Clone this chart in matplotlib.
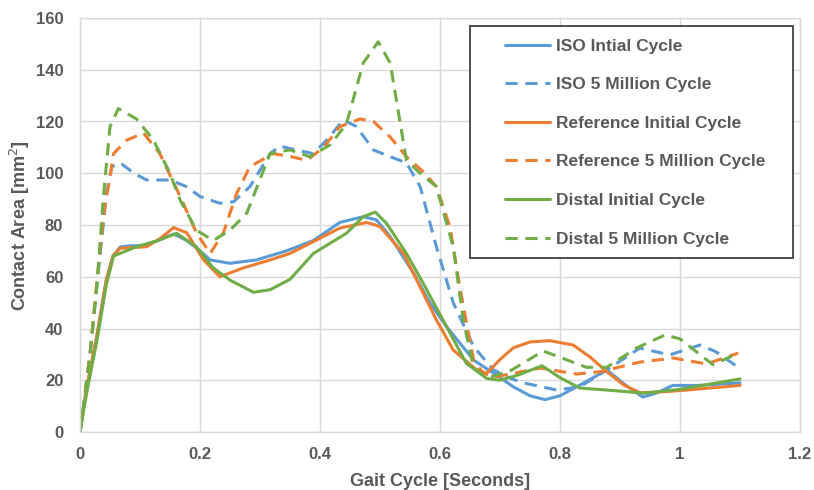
import matplotlib
matplotlib.use("Agg")
import matplotlib.pyplot as plt
from matplotlib.patches import Rectangle

plt.rcParams['font.family'] = ['Liberation Sans', 'DejaVu Sans']

# ---- data ----
iso_init_x = [0, 0.011, 0.028, 0.044, 0.055, 0.067, 0.085, 0.106, 0.13, 0.156, 0.178, 0.2, 0.217, 0.25,
              0.294, 0.344, 0.389, 0.433, 0.472, 0.494, 0.517, 0.556, 0.583, 0.611, 0.656, 0.694, 0.722,
              0.75, 0.775, 0.80, 0.84, 0.878, 0.91, 0.938, 0.96, 0.988, 1.03, 1.1]
iso_init_y = [0, 17, 37, 59, 68, 71.5, 72, 72, 74, 76.5, 74, 70, 66.5, 65.2,
              66.5, 70, 74, 81, 83.2, 82, 75.5, 61.4, 50, 40.7, 27.8, 22, 17.5,
              14, 12.5, 14, 19, 24, 18, 13.5, 15, 18, 18, 19]

ref_init_x = [0, 0.011, 0.028, 0.044, 0.055, 0.067, 0.111, 0.135, 0.156, 0.178, 0.206, 0.233, 0.272, 0.317,
              0.35, 0.389, 0.433, 0.478, 0.5, 0.539, 0.567, 0.594, 0.622, 0.661, 0.678, 0.7, 0.722, 0.75,
              0.783, 0.822, 0.85, 0.878, 0.906, 0.933, 0.97, 1.0, 1.05, 1.1]
ref_init_y = [0, 17, 37, 59, 68, 71, 71.6, 75, 79, 77, 66.5, 60, 63.4, 66.5,
              69, 73.6, 78.8, 81, 79.4, 69, 56, 43.3, 31.7, 24, 22.7, 28, 32.5, 34.8,
              35.3, 33.6, 29, 23.3, 18.2, 15.2, 15.5, 16, 17, 18]

dis_init_x = [0, 0.011, 0.028, 0.044, 0.056, 0.094, 0.13, 0.161, 0.194, 0.222, 0.25, 0.289, 0.317, 0.35,
              0.389, 0.444, 0.472, 0.492, 0.511, 0.544, 0.572, 0.611, 0.644, 0.678, 0.7, 0.73, 0.77,
              0.8, 0.833, 0.89, 0.94, 1.0, 1.05, 1.1]
dis_init_y = [0, 15, 35, 57, 68, 71.6, 74, 76.8, 71.6, 63.4, 58.7, 54, 55, 59,
              69, 76.8, 83.2, 85, 80.6, 69, 57.5, 40.7, 26.5, 20.7, 20, 22, 25.6,
              21, 17, 16, 15, 16.5, 18.5, 20.5]

iso_5m_x = [0, 0.006, 0.017, 0.028, 0.044, 0.053, 0.067, 0.09, 0.111, 0.15, 0.178, 0.2, 0.233, 0.256,
            0.283, 0.317, 0.333, 0.36, 0.389, 0.411, 0.439, 0.461, 0.489, 0.517, 0.544, 0.567, 0.594,
            0.622, 0.656, 0.689, 0.72, 0.739, 0.795, 0.833, 0.878, 0.933, 0.983, 1.033, 1.06, 1.097]
iso_5m_y = [0, 10, 31, 56, 92, 102.5, 104, 100, 97.4, 97.4, 94.8, 91, 88.4, 89,
            94.8, 107.6, 110.5, 109, 107.6, 112.8, 120.6, 118, 109, 106.4, 104, 94.8, 71.6,
            50, 33, 24, 20.5, 19, 16.2, 17.5, 24, 32.4, 29.8, 33.6, 31, 25]

ref_5m_x = [0, 0.006, 0.017, 0.028, 0.04, 0.05, 0.056, 0.078, 0.106, 0.133, 0.167, 0.194, 0.217, 0.239,
            0.261, 0.283, 0.322, 0.35, 0.378, 0.406, 0.433, 0.467, 0.489, 0.517, 0.544, 0.572, 0.594,
            0.617, 0.633, 0.656, 0.672, 0.694, 0.767, 0.828, 0.867, 0.933, 0.989, 1.044, 1.097]
ref_5m_y = [0, 10, 31, 58, 85, 98.7, 107.6, 112.8, 115.5, 107.6, 91, 77, 69, 77,
            92.2, 102.5, 107.6, 106.5, 105, 110, 118, 121, 120, 114, 106.4, 100.6, 94.8,
            79, 56, 27.8, 22.7, 21.4, 24.7, 22.4, 23.3, 27, 28.6, 26.3, 30.5]

dis_5m_x = [0, 0.006, 0.017, 0.028, 0.039, 0.05, 0.064, 0.094, 0.122, 0.15, 0.167, 0.194, 0.222, 0.25,
            0.278, 0.317, 0.35, 0.383, 0.417, 0.444, 0.472, 0.497, 0.517, 0.544, 0.567, 0.594, 0.622,
            0.639, 0.656, 0.678, 0.72, 0.772, 0.81, 0.844, 0.878, 0.928, 0.975, 1.0, 1.055, 1.097]
dis_5m_y = [0, 10, 30.5, 56, 91, 118, 125, 121, 113, 100, 89.6, 78, 74, 78,
            84.6, 107.7, 109, 106.4, 111, 119, 142.6, 150.8, 142.6, 105, 100, 94.8, 71.6,
            43, 25, 20.7, 24, 31.3, 28, 25, 25, 32.5, 37.5, 36, 26, 30.5]

labels = ["ISO Intial Cycle", "ISO 5 Million Cycle", "Reference Initial Cycle",
          "Reference 5 Million Cycle", "Distal Initial Cycle", "Distal 5 Million Cycle"]
x_ticks = [0, 0.2, 0.4, 0.6, 0.8, 1.0, 1.2]
x_tick_labels = ["0", "0.2", "0.4", "0.6", "0.8", "1", "1.2"]
y_ticks = [0, 20, 40, 60, 80, 100, 120, 140, 160]

BLUE, ORANGE, GREEN = "#5B9BD5", "#ED7D31", "#70AD47"
TXT = "#595959"
GRID = "#D9D9D9"

fig = plt.figure(figsize=(8.14, 4.90), dpi=100)
ax = fig.add_axes([80/814, 1 - 432/490, 720/814, 414/490])

lw = 2.2
dash = (4, 2.5)
series = [
    (iso_init_x, iso_init_y, BLUE, None),
    (iso_5m_x, iso_5m_y, BLUE, dash),
    (ref_init_x, ref_init_y, ORANGE, None),
    (ref_5m_x, ref_5m_y, ORANGE, dash),
    (dis_init_x, dis_init_y, GREEN, None),
    (dis_5m_x, dis_5m_y, GREEN, dash),
]
handles = []
for (xs, ys, c, d), lab in zip(series, labels):
    if d is None:
        h, = ax.plot(xs, ys, color=c, lw=lw, label=lab, solid_capstyle='round', solid_joinstyle='round')
    else:
        h, = ax.plot(xs, ys, color=c, lw=lw, label=lab, dashes=d, dash_capstyle='butt', solid_joinstyle='round')
    handles.append(h)

ax.set_xlim(0, 1.2)
ax.set_ylim(0, 160)
ax.set_xticks(x_ticks)
ax.set_xticklabels(x_tick_labels)
ax.set_yticks(y_ticks)
ax.grid(True, color=GRID, lw=1.0)
ax.set_axisbelow(True)
for s in ax.spines.values():
    s.set_color(GRID)
    s.set_linewidth(1.0)
ax.tick_params(length=0, labelsize=12, labelcolor=TXT)
ax.tick_params(axis='x', pad=11)
ax.tick_params(axis='y', pad=12)
for t in ax.get_xticklabels() + ax.get_yticklabels():
    t.set_fontweight('bold')

ax.set_xlabel("Gait Cycle [Seconds]", fontsize=13, fontweight='bold', color=TXT)
ax.xaxis.set_label_coords(0.5, -0.098)
ax.set_ylabel("Contact Area [mm$^2$]", fontsize=13, fontweight='bold', color=TXT)
ax.yaxis.set_label_coords(-0.083, 0.4976)
ax.yaxis.label.set_va('center')

# legend frame
rect = Rectangle(((470-80)/720, 1-(258.3-18)/414), (793.3-470)/720, (258.3-25.7)/414,
                 transform=ax.transAxes, facecolor='white', edgecolor='#404040', lw=1.3,
                 zorder=5, clip_on=False)
ax.add_patch(rect)
leg = ax.legend(handles=handles, loc='upper left', bbox_to_anchor=((505-80)/720, 1-(38.5-18)/414),
                frameon=False, fontsize=12.5, handlelength=2.6, handletextpad=0.33,
                labelspacing=1.35, borderpad=0, borderaxespad=0)
leg.set_zorder(6)
for t in leg.get_texts():
    t.set_color(TXT)
    t.set_fontweight('bold')

fig.savefig("out.png", dpi=100)
